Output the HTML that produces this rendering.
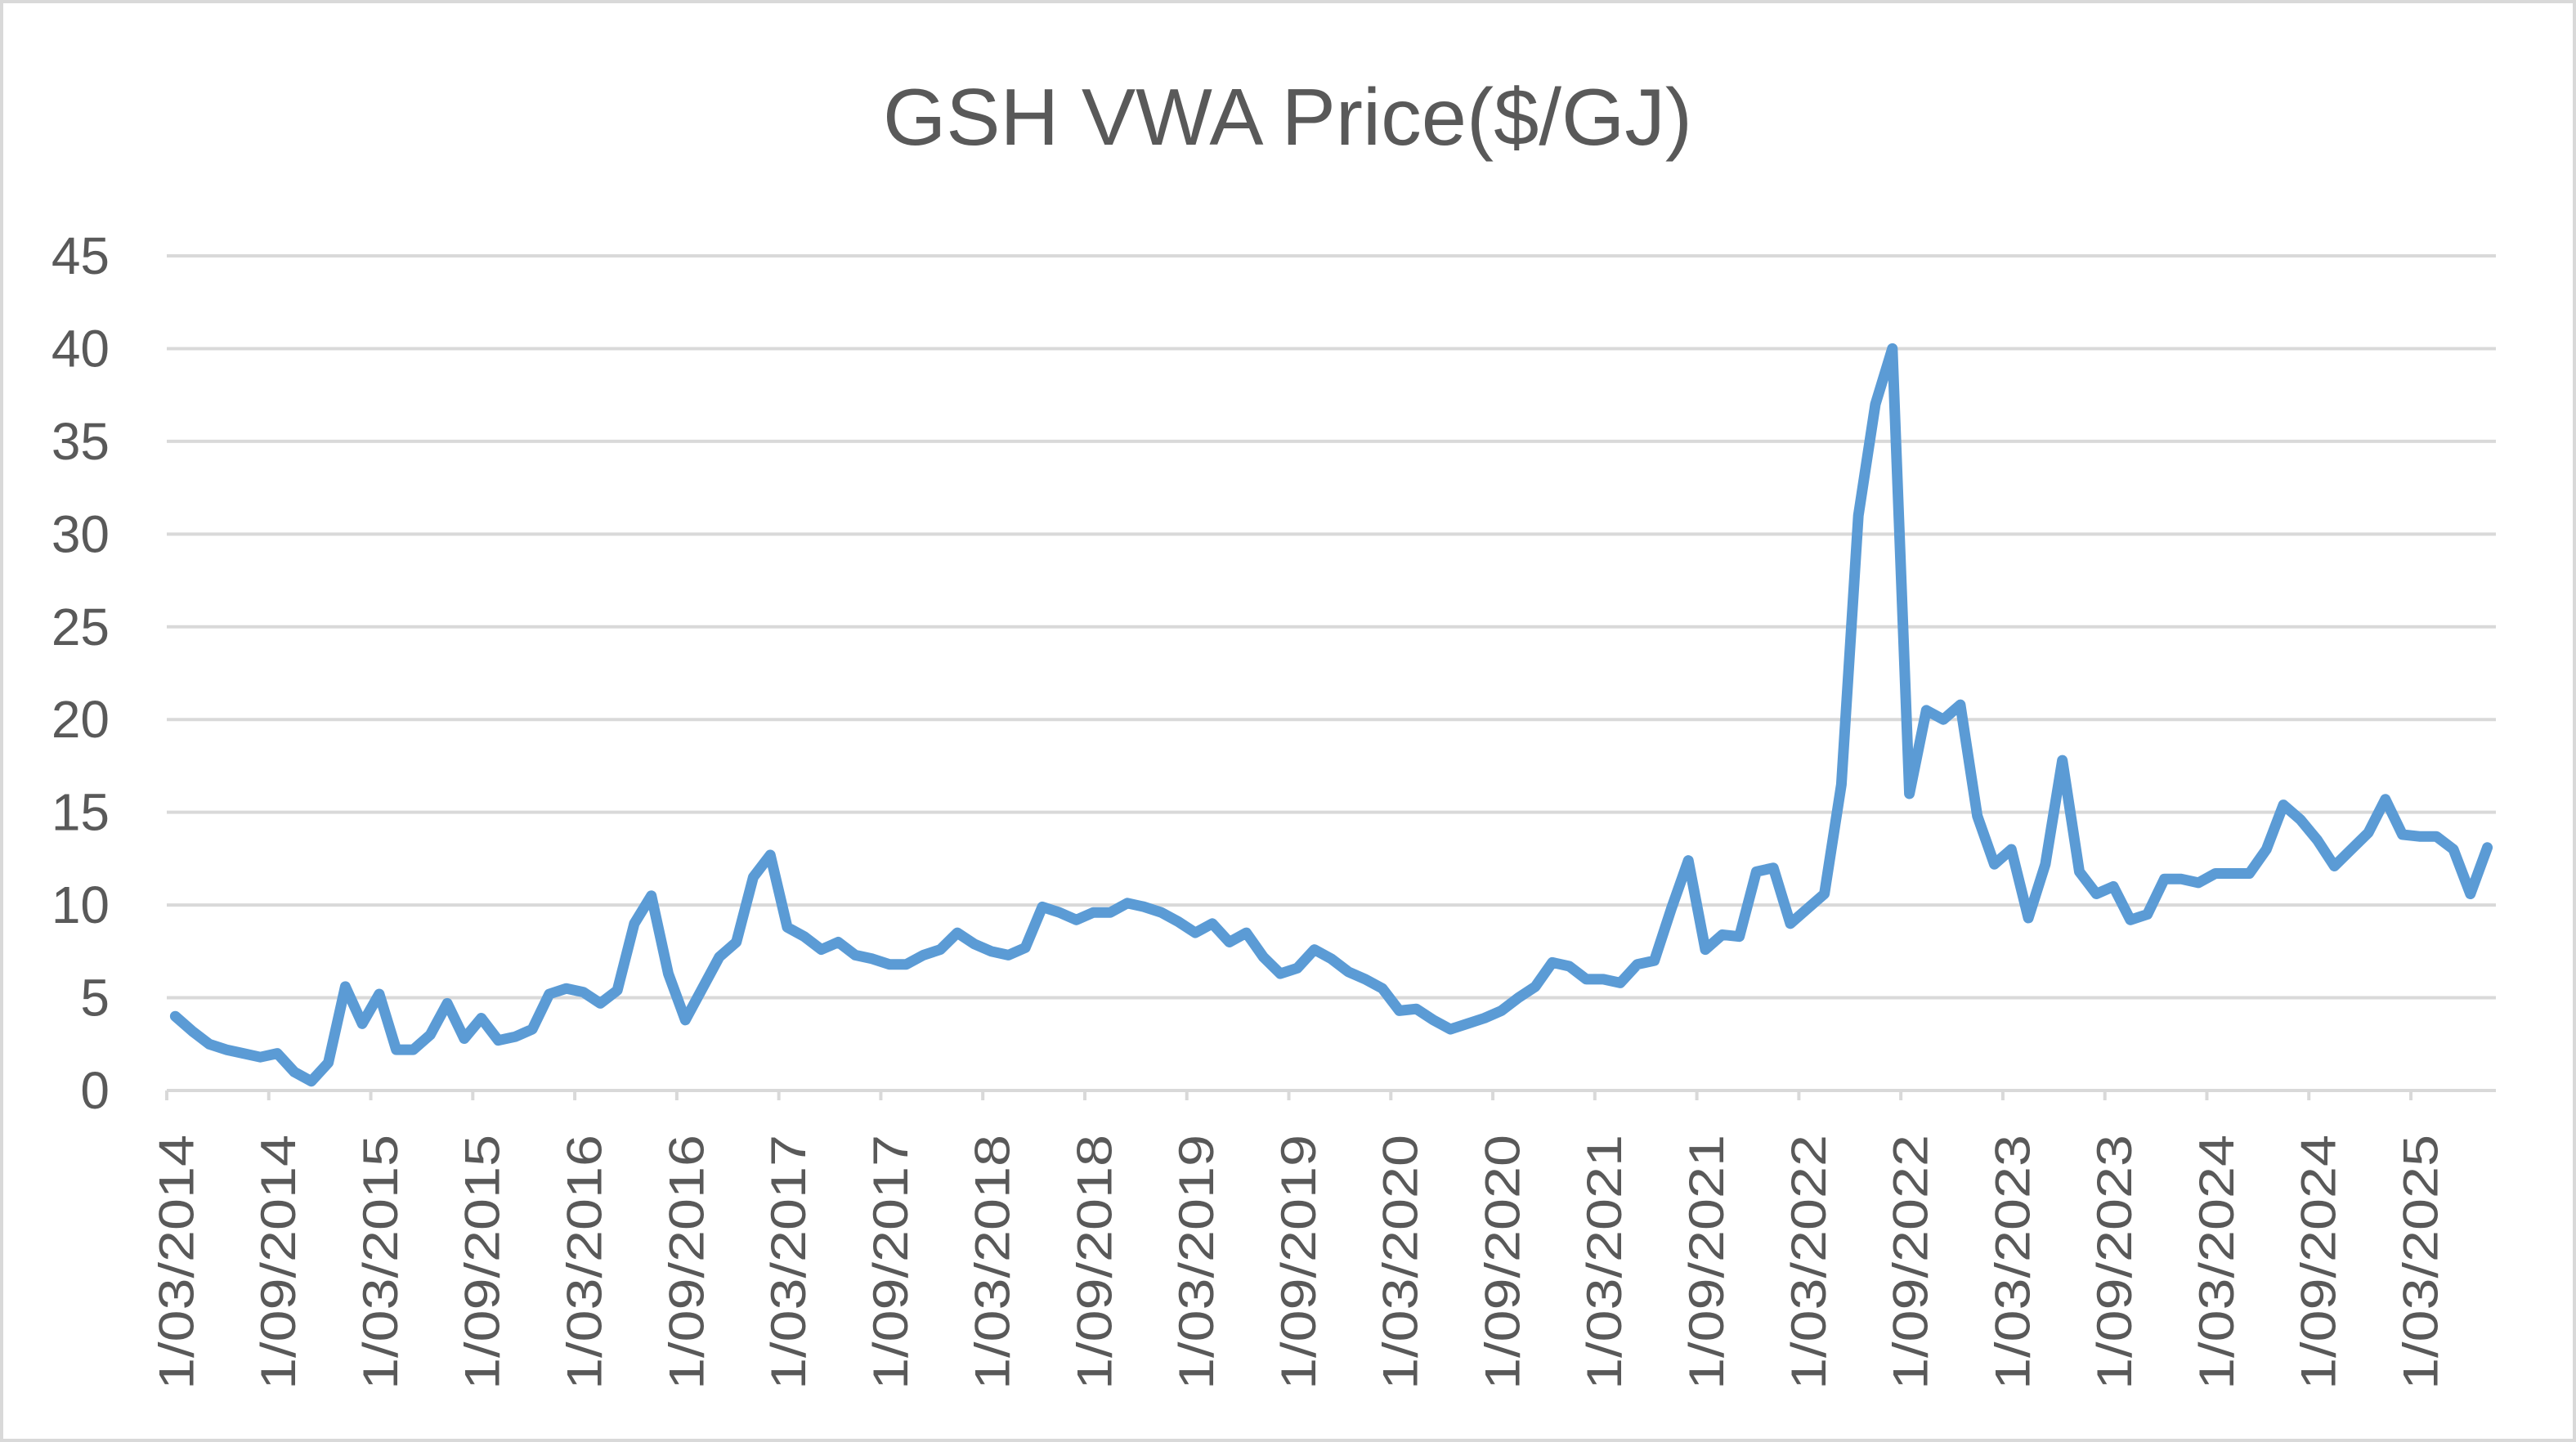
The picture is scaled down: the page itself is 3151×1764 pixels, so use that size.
<!DOCTYPE html>
<html><head><meta charset="utf-8"><style>
html,body{margin:0;padding:0;background:#fff;}
svg{display:block;font-family:"Liberation Sans",sans-serif;}
</style></head><body>
<svg id="chart" width="3151" height="1764" viewBox="0 0 3151 1764" xmlns="http://www.w3.org/2000/svg">
<rect x="2" y="2" width="3147" height="1760" fill="#fff" stroke="#d9d9d9" stroke-width="4"/>
<text x="1575" y="177" text-anchor="middle" font-size="98" fill="#595959" textLength="990" lengthAdjust="spacingAndGlyphs">GSH VWA Price($/GJ)</text>
<g id="grid"></g><g id="yaxis"></g><g id="xaxis"></g><g id="series"></g>
</svg>
<script>
const yTicks = [0,5,10,15,20,25,30,35,40,45];
const startYear = 2014, startMonth = 3;
const values = [4.0,3.2,2.5,2.2,2.0,1.8,2.0,1.0,0.5,1.5,5.6,3.6,5.2,2.2,2.2,3.0,4.7,2.8,3.9,2.7,
2.9,3.3,5.2,5.5,5.3,4.7,5.4,9.0,10.5,6.3,3.8,5.5,7.2,8.0,11.5,12.7,8.8,8.3,7.6,8.0,
7.3,7.1,6.8,6.8,7.3,7.6,8.5,7.9,7.5,7.3,7.7,9.9,9.6,9.2,9.6,9.6,10.1,9.9,9.6,9.1,
8.5,9.0,8.0,8.5,7.2,6.3,6.6,7.6,7.1,6.4,6.0,5.5,4.3,4.4,3.8,3.3,3.6,3.9,4.3,5.0,
5.6,6.9,6.7,6.0,6.0,5.8,6.8,7.0,9.8,12.4,7.6,8.4,8.3,11.8,12.0,9.0,9.8,10.6,16.5,31.0,
37.0,40.0,16.0,20.5,20.0,20.8,14.8,12.2,13.0,9.3,12.2,17.8,11.8,10.6,11.0,9.2,9.5,11.4,11.4,11.2,
11.7,11.7,11.7,13.0,15.4,14.6,13.5,12.1,13.0,13.9,15.7,13.8,13.7,13.7,13.0,10.6,13.1];
const labelEvery = 6;

const NS = "http://www.w3.org/2000/svg";
const L = 204, R = 3053, Y0 = 1334, Y45 = 313;
const n = values.length;
const step = (R - L) / n;
const xScale = i => L + (i + 0.5) * step;
const yScale = v => Y0 - (v / 45) * (Y0 - Y45);

const grid = document.getElementById('grid');
const yaxis = document.getElementById('yaxis');
yTicks.forEach(t => {
  const y = yScale(t);
  if (t > 0) {
    const ln = document.createElementNS(NS, 'line');
    
    
    ln.setAttribute('x1', L); ln.setAttribute('x2', R);
    ln.setAttribute('y1', y); ln.setAttribute('y2', y);
    ln.setAttribute('stroke', '#d9d9d9'); ln.setAttribute('stroke-width', '4');
    grid.appendChild(ln);
  }
  const tx = document.createElementNS(NS, 'text');
  
  
  tx.setAttribute('x', 134); tx.setAttribute('y', y + 22);
  tx.setAttribute('text-anchor', 'end'); tx.setAttribute('font-size', '64');
  tx.setAttribute('fill', '#595959');
  tx.textContent = t;
  yaxis.appendChild(tx);
});

const xaxis = document.getElementById('xaxis');
const axis = document.createElementNS(NS, 'line');


axis.setAttribute('x1', L); axis.setAttribute('x2', R);
axis.setAttribute('y1', Y0); axis.setAttribute('y2', Y0);
axis.setAttribute('stroke', '#d9d9d9'); axis.setAttribute('stroke-width', '4');
xaxis.appendChild(axis);
for (let i = 0; i <= n; i += labelEvery) {
  const x = L + i * step;
  const tk = document.createElementNS(NS, 'line');
  
  
  tk.setAttribute('x1', x); tk.setAttribute('x2', x);
  tk.setAttribute('y1', Y0); tk.setAttribute('y2', Y0 + 12);
  tk.setAttribute('stroke', '#d9d9d9'); tk.setAttribute('stroke-width', '4');
  xaxis.appendChild(tk);
  if (i < n) {
    const m = startMonth - 1 + i;
    const yr = startYear + Math.floor(m / 12);
    const mo = (m % 12) + 1;
    const lbl = '1/' + String(mo).padStart(2, '0') + '/' + yr;
    const cx = xScale(i) + 22;
    const tx = document.createElementNS(NS, 'text');
    
    
    tx.setAttribute('x', cx); tx.setAttribute('y', 1388);
    tx.setAttribute('transform', 'rotate(-90 ' + cx + ' 1388)');
    tx.setAttribute('text-anchor', 'end'); tx.setAttribute('font-size', '60');
    tx.setAttribute('fill', '#595959');
    tx.setAttribute('textLength', '312'); tx.setAttribute('lengthAdjust', 'spacingAndGlyphs');
    tx.textContent = lbl;
    xaxis.appendChild(tx);
  }
}

const series = document.getElementById('series');
const path = document.createElementNS(NS, 'polyline');


path.setAttribute('points', values.map((v, i) => xScale(i).toFixed(1) + ',' + yScale(v).toFixed(1)).join(' '));
path.setAttribute('fill', 'none'); path.setAttribute('stroke', '#5b9bd5');
path.setAttribute('stroke-width', '13'); path.setAttribute('stroke-linejoin', 'round');
path.setAttribute('stroke-linecap', 'round');
series.appendChild(path);
</script>
</body></html>
